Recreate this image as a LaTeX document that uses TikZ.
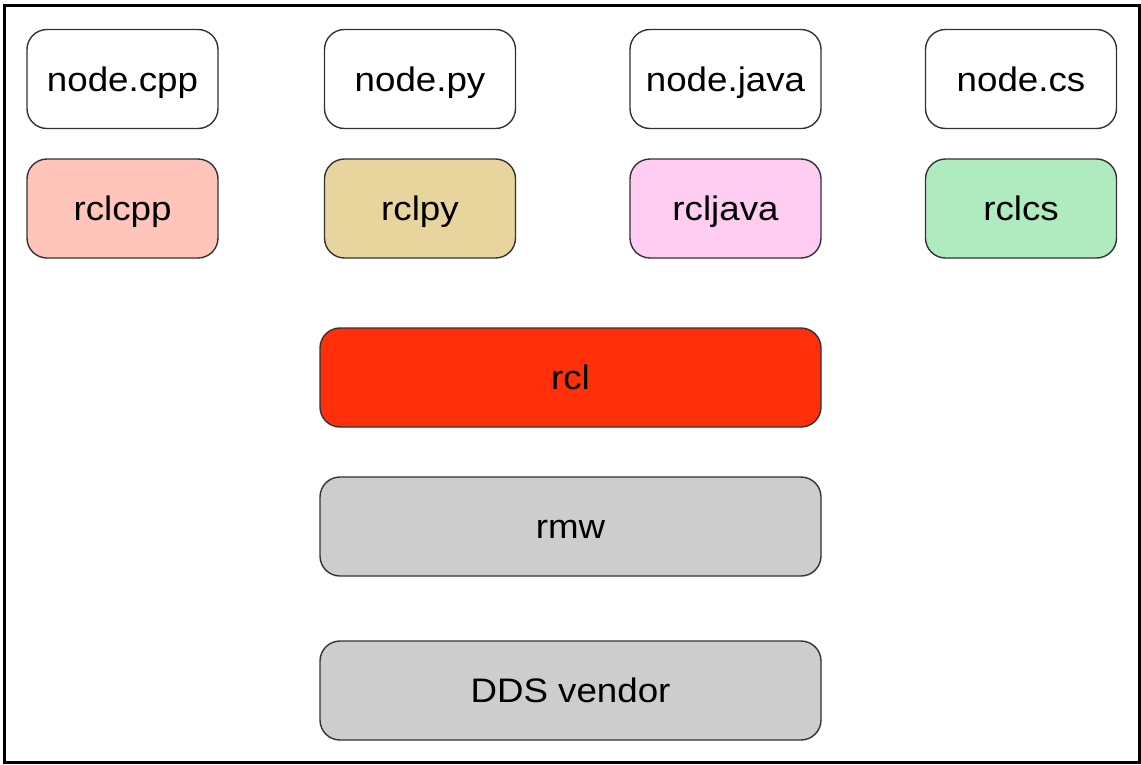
\documentclass[tikz,border=0pt]{standalone}
\usepackage{fontspec}
\setmainfont{Liberation Sans}[FakeStretch=1.08]
\definecolor{cppfill}{HTML}{FFC5BB}
\definecolor{pyfill}{HTML}{E8D59E}
\definecolor{javafill}{HTML}{FFCCF2}
\definecolor{csfill}{HTML}{B0EBC0}
\definecolor{rclfill}{HTML}{FF2F0A}
\definecolor{layerfill}{HTML}{CDCDCD}
\definecolor{edge}{HTML}{333333}
\tikzset{
  box/.style={draw=edge, line width=1.4pt, rounded corners=20pt,
    minimum width=191pt, minimum height=99pt, inner sep=0pt,
    text height=24pt, text depth=0pt,
    font=\fontsize{34}{40}\selectfont},
  wide/.style={box, minimum width=501pt}
}
\begin{document}
\begin{tikzpicture}[x=1pt, y=-1pt]
  \useasboundingbox (0,0) rectangle (1141,764);
  \draw[line width=3pt, black] (4,5) rectangle (1139,762);
  % language-level node sources
  \node[box, fill=white] (ncpp)  at (122.5,79) {node.cpp};
  \node[box, fill=white] (npy)   at (420,79)   {node.py};
  \node[box, fill=white] (njava) at (725.5,79) {node.java};
  \node[box, fill=white] (ncs)   at (1021,79)  {node.cs};
  % client libraries
  \node[box, fill=cppfill]  (rclcpp)  at (122.5,208.5) {rclcpp};
  \node[box, fill=pyfill]   (rclpy)   at (420,208.5)   {rclpy};
  \node[box, fill=javafill] (rcljava) at (725.5,208.5) {rcljava};
  \node[box, fill=csfill]   (rclcs)   at (1021,208.5)  {rclcs};
  % common layers
  \node[wide, fill=rclfill]   (rcl) at (570.5,377.5) {rcl};
  \node[wide, fill=layerfill] (rmw) at (570.5,526.5) {rmw};
  \node[wide, fill=layerfill] (dds) at (570.5,690.5) {DDS vendor};
\end{tikzpicture}
\end{document}
